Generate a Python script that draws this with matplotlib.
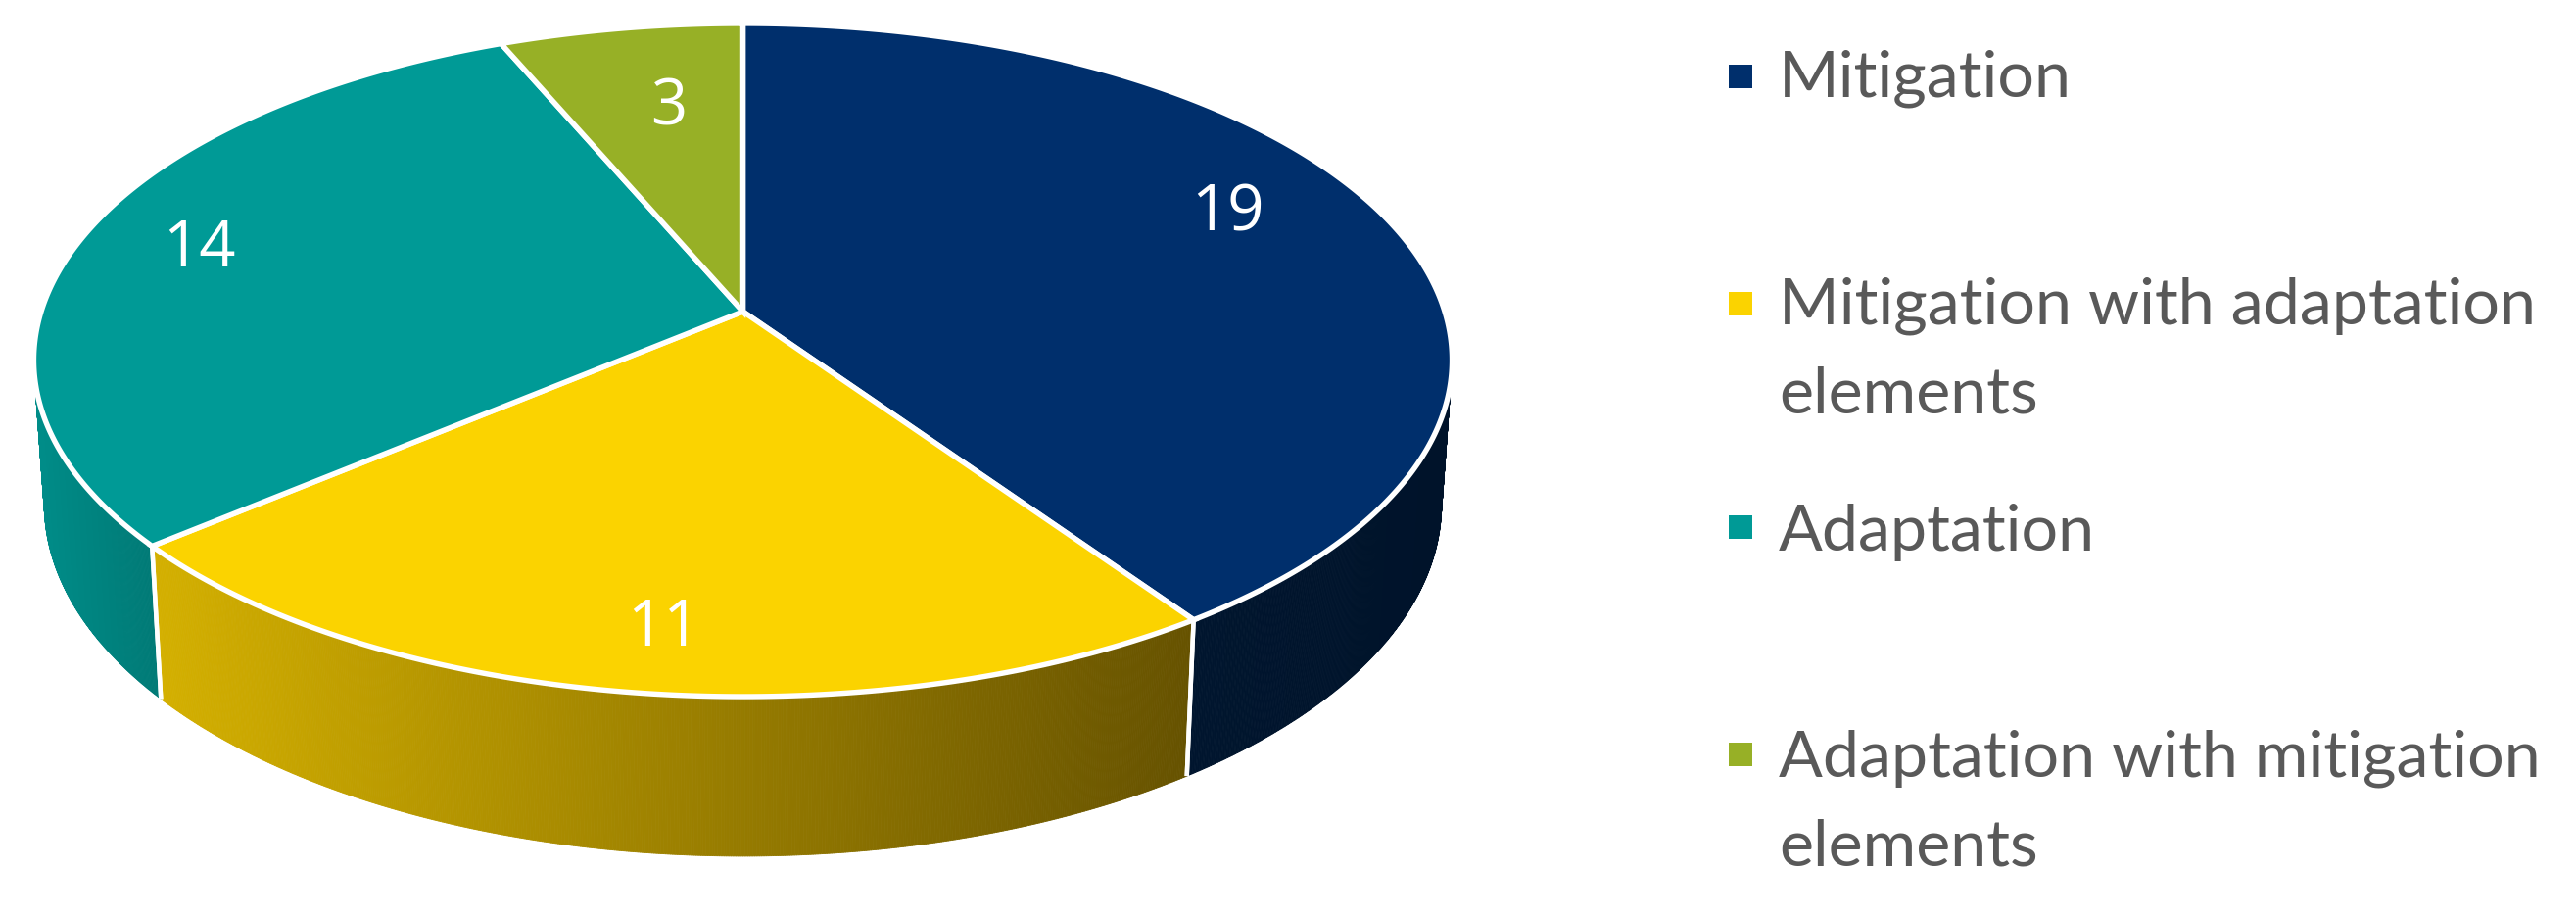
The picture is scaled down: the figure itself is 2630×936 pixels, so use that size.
import numpy as np
import matplotlib
matplotlib.use("Agg")
import matplotlib.pyplot as plt
from matplotlib.collections import PolyCollection
from matplotlib.colors import to_rgb
from matplotlib.patches import Polygon, Rectangle

# ---- data ----
categories = ["Mitigation", "Mitigation with adaptation\nelements", "Adaptation",
              "Adaptation with mitigation\nelements"]
values = [19, 11, 14, 3]
top_colors = ["#002F6C", "#FBD300", "#009A96", "#97B026"]
side_left = ["#00152E", "#D4B000", "#008C88", "#6F8220"]
side_right = ["#00132A", "#665200", "#007A76", "#6F8220"]

# ---- layout (pixels of the 2630x936 canvas) ----
W, H = 2630, 936
XC, YC, A, B, K = 758.5, 318.0, 716.5, 336.4, 0.144
label_xy = [(1253, 210), (677, 634), (203, 247), (683, 103)]
legend_y = [(78, 98), (310, 331), (538, 562), (770, 793)]
text_color = "#595959"


def top(theta_deg):
    t = np.radians(theta_deg)
    u, v = np.sin(t), np.cos(t)
    w = 1 + K * v
    return XC + A * u / w, YC - B * v / w


def bottom(theta_deg):
    x, y = top(theta_deg)
    return XC + (x - XC) * 0.985, 713 + (y - 557) * 1.045


fig = plt.figure(figsize=(W / 100, H / 100), dpi=100, facecolor="white")
ax = fig.add_axes([0, 0, 1, 1])
ax.set_xlim(0, W)
ax.set_ylim(H, 0)
ax.axis("off")

edges = np.concatenate([[0], np.cumsum(values)]) / sum(values) * 360

# Side wall, front part only
for i in range(len(values)):
    a0, a1 = edges[i], edges[i + 1]
    th = np.linspace(a0, a1, int((a1 - a0) * 6) + 2)
    th = th[(th > 70) & (th < 290)]
    if len(th) < 2:
        continue
    xt, yt = top(th)
    xb, yb = bottom(th)
    polys, cols = [], []
    lo, hi = xt.min(), xt.max()
    cl, cr = np.array(to_rgb(side_left[i])), np.array(to_rgb(side_right[i]))
    for j in range(len(th) - 1):
        polys.append([(xt[j], yt[j]), (xt[j + 1], yt[j + 1]), (xb[j + 1], yb[j + 1]), (xb[j], yb[j])])
        f = ((xt[j] + xt[j + 1]) / 2 - lo) / (hi - lo)
        cols.append(cl + (cr - cl) * f)
    ax.add_collection(PolyCollection(polys, facecolors=cols, edgecolors=cols, linewidths=0.6, zorder=2))
    # white seams between side faces
    for a in (a0, a1):
        if 70 < a < 290:
            xa, ya = top(a)
            xe, ye = bottom(a)
            ax.plot([xa, xe], [ya, ye], color="white", lw=3.2, zorder=3, solid_capstyle="butt")

# Top face
for i in range(len(values)):
    th = np.linspace(edges[i], edges[i + 1], 300)
    xt, yt = top(th)
    pts = np.column_stack([np.r_[XC, xt], np.r_[YC, yt]])
    ax.add_patch(Polygon(pts, closed=True, facecolor=top_colors[i], edgecolor="white",
                         linewidth=3.9, joinstyle="miter", zorder=4))

# Data labels
for v, (x, y) in zip(values, label_xy):
    ax.text(x, y, str(v), color="white", fontsize=47, family="Open Sans", ha="center",
            va="center_baseline", zorder=5)

# Legend
for name, c, (ym, yb) in zip(categories, top_colors, legend_y):
    ax.add_patch(Rectangle((1765.5, ym - 12), 24, 24, facecolor=c, edgecolor="none"))
    for k, line in enumerate(name.split("\n")):
        ax.text(1816, yb + k * 91, line, color=text_color, fontsize=47.8, family="Lato",
                ha="left", va="baseline")

fig.savefig("out.png", dpi=100, facecolor="white")
